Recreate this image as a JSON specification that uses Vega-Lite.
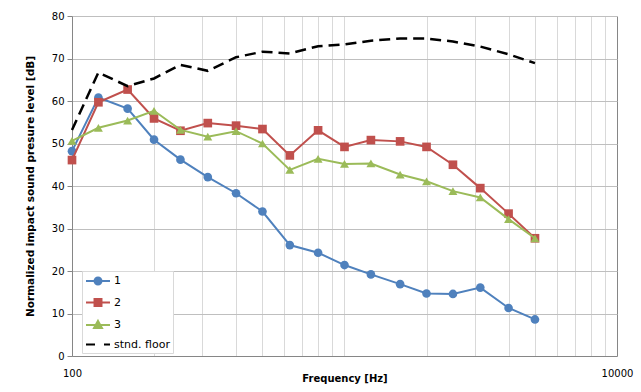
{
  "$schema": "https://vega.github.io/schema/vega-lite/v6.json",
  "width": 545,
  "height": 340,
  "autosize": "none",
  "padding": {"left": 72, "top": 16, "right": 24, "bottom": 36},
  "background": "white",
  "config": {
    "font": "DejaVu Sans",
    "view": {"stroke": null}
  },
  "data": {
    "values": [
      {"f": 100, "s": "1", "v": 48.2}, {"f": 125, "s": "1", "v": 60.8}, {"f": 160, "s": "1", "v": 58.2}, {"f": 200, "s": "1", "v": 50.9}, {"f": 250, "s": "1", "v": 46.2}, {"f": 315, "s": "1", "v": 42.1}, {"f": 400, "s": "1", "v": 38.3}, {"f": 500, "s": "1", "v": 34.0}, {"f": 630, "s": "1", "v": 26.1}, {"f": 800, "s": "1", "v": 24.3}, {"f": 1000, "s": "1", "v": 21.4}, {"f": 1250, "s": "1", "v": 19.2}, {"f": 1600, "s": "1", "v": 16.9}, {"f": 2000, "s": "1", "v": 14.7}, {"f": 2500, "s": "1", "v": 14.6}, {"f": 3150, "s": "1", "v": 16.1}, {"f": 4000, "s": "1", "v": 11.3}, {"f": 5000, "s": "1", "v": 8.6},
      {"f": 100, "s": "2", "v": 46.1}, {"f": 125, "s": "2", "v": 59.7}, {"f": 160, "s": "2", "v": 62.7}, {"f": 200, "s": "2", "v": 55.9}, {"f": 250, "s": "2", "v": 53.0}, {"f": 315, "s": "2", "v": 54.8}, {"f": 400, "s": "2", "v": 54.2}, {"f": 500, "s": "2", "v": 53.4}, {"f": 630, "s": "2", "v": 47.2}, {"f": 800, "s": "2", "v": 53.1}, {"f": 1000, "s": "2", "v": 49.2}, {"f": 1250, "s": "2", "v": 50.8}, {"f": 1600, "s": "2", "v": 50.5}, {"f": 2000, "s": "2", "v": 49.2}, {"f": 2500, "s": "2", "v": 45.0}, {"f": 3150, "s": "2", "v": 39.5}, {"f": 4000, "s": "2", "v": 33.5}, {"f": 5000, "s": "2", "v": 27.7},
      {"f": 100, "s": "3", "v": 50.6}, {"f": 125, "s": "3", "v": 53.7}, {"f": 160, "s": "3", "v": 55.4}, {"f": 200, "s": "3", "v": 57.7}, {"f": 250, "s": "3", "v": 53.2}, {"f": 315, "s": "3", "v": 51.6}, {"f": 400, "s": "3", "v": 52.9}, {"f": 500, "s": "3", "v": 50.0}, {"f": 630, "s": "3", "v": 43.8}, {"f": 800, "s": "3", "v": 46.4}, {"f": 1000, "s": "3", "v": 45.2}, {"f": 1250, "s": "3", "v": 45.3}, {"f": 1600, "s": "3", "v": 42.7}, {"f": 2000, "s": "3", "v": 41.1}, {"f": 2500, "s": "3", "v": 38.8}, {"f": 3150, "s": "3", "v": 37.3}, {"f": 4000, "s": "3", "v": 32.2}, {"f": 5000, "s": "3", "v": 27.7},
      {"f": 100, "s": "stnd. floor", "v": 53.2}, {"f": 125, "s": "stnd. floor", "v": 66.7}, {"f": 160, "s": "stnd. floor", "v": 63.5}, {"f": 200, "s": "stnd. floor", "v": 65.3}, {"f": 250, "s": "stnd. floor", "v": 68.5}, {"f": 315, "s": "stnd. floor", "v": 67.1}, {"f": 400, "s": "stnd. floor", "v": 70.3}, {"f": 500, "s": "stnd. floor", "v": 71.6}, {"f": 630, "s": "stnd. floor", "v": 71.2}, {"f": 800, "s": "stnd. floor", "v": 72.9}, {"f": 1000, "s": "stnd. floor", "v": 73.3}, {"f": 1250, "s": "stnd. floor", "v": 74.2}, {"f": 1600, "s": "stnd. floor", "v": 74.7}, {"f": 2000, "s": "stnd. floor", "v": 74.7}, {"f": 2500, "s": "stnd. floor", "v": 74.0}, {"f": 3150, "s": "stnd. floor", "v": 72.8}, {"f": 4000, "s": "stnd. floor", "v": 71.0}, {"f": 5000, "s": "stnd. floor", "v": 68.9}
    ]
  },
  "encoding": {
    "x": {
      "field": "f", "type": "quantitative",
      "scale": {"type": "log", "domain": [100, 10000], "nice": false},
      "axis": {
        "values": [100, 200, 300, 400, 500, 600, 700, 800, 900, 1000, 2000, 3000, 4000, 5000, 6000, 7000, 8000, 9000, 10000],
        "format": "d",
        "labelExpr": "datum.value == 100 || datum.value == 10000 ? datum.label : ''",
        "labelFlush": false,
        "labelOverlap": false,
        "labelFontSize": 10,
        "labelColor": "#000000",
        "labelPadding": 12,
        "ticks": false,
        "domainColor": "#868686",
        "gridColor": {"condition": {"test": "datum.value == 10000", "value": "#868686"}, "value": "#d9d9d9"},
        "title": "Frequency [Hz]",
        "titleFontSize": 10,
        "titleFontWeight": "bold",
        "titleColor": "#000000",
        "titleBaseline": "middle",
        "titleY": 22
      }
    },
    "y": {
      "field": "v", "type": "quantitative",
      "scale": {"domain": [0, 80], "nice": false},
      "axis": {
        "values": [0, 10, 20, 30, 40, 50, 60, 70, 80],
        "labelFontSize": 10,
        "labelColor": "#000000",
        "labelPadding": 3,
        "tickSize": 5,
        "tickColor": "#868686",
        "domainColor": "#868686",
        "gridColor": "#bfbfbf",
        "title": "Normalized  impact  sound  presure level [dB]",
        "titleFontSize": 10.5,
        "titleFontWeight": "bold",
        "titleColor": "#000000",
        "titleBaseline": "middle",
        "titleX": -42
      }
    }
  },
  "layer": [
    {
      "mark": {"type": "point", "filled": true, "opacity": 0},
      "encoding": {
        "color": {
          "field": "s", "type": "nominal",
          "scale": {"domain": ["1", "2", "3", "stnd. floor"], "range": ["#4F81BD", "#C0504D", "#9BBB59", "#000000"]},
          "legend": {
            "title": null, "orient": "none", "legendX": 10, "legendY": 255,
            "fillColor": "#ffffff", "strokeColor": "#d9d9d9", "padding": 3, "rowPadding": 5.5,
            "labelFontSize": 11, "labelColor": "#000000", "labelOffset": 9, "symbolOffset": 6,
            "symbolSize": 144, "symbolStrokeWidth": 2, "symbolOpacity": 1
          }
        },
        "stroke": {
          "field": "s", "type": "nominal",
          "scale": {"domain": ["1", "2", "3", "stnd. floor"], "range": ["#4F81BD", "#C0504D", "#9BBB59", "#000000"]},
          "legend": {
            "title": null, "orient": "none", "legendX": 10, "legendY": 255,
            "fillColor": "#ffffff", "strokeColor": "#d9d9d9", "padding": 3, "rowPadding": 5.5,
            "labelFontSize": 11, "labelColor": "#000000", "labelOffset": 9, "symbolOffset": 6,
            "symbolSize": 144, "symbolStrokeWidth": 2, "symbolOpacity": 1
          }
        },
        "shape": {
          "field": "s", "type": "nominal",
          "scale": {"domain": ["1", "2", "3", "stnd. floor"], "range": [
            "M-2,0L2,0M-0.58,0A0.58,0.58 0 1,1 0.58,0A0.58,0.58 0 1,1 -0.58,0Z",
            "M-2,0L2,0M-0.58,-0.58L0.58,-0.58L0.58,0.58L-0.58,0.58Z",
            "M-2,0L2,0M0,-0.68L0.66,0.5L-0.66,0.5Z",
            "M-2,0L-0.5,0M1,0L2,0"
          ]},
          "legend": {
            "title": null, "orient": "none", "legendX": 10, "legendY": 255,
            "fillColor": "#ffffff", "strokeColor": "#d9d9d9", "padding": 3, "rowPadding": 5.5,
            "labelFontSize": 11, "labelColor": "#000000", "labelOffset": 9, "symbolOffset": 6,
            "symbolSize": 144, "symbolStrokeWidth": 2, "symbolOpacity": 1
          }
        }
      }
    },
    {
      "transform": [{"filter": "datum.s === '1'"}],
      "mark": {"type": "line", "strokeWidth": 2},
      "encoding": {"color": {"field": "s", "type": "nominal", "legend": null}}
    },
    {
      "transform": [{"filter": "datum.s === '1'"}],
      "mark": {"type": "point", "filled": true, "opacity": 1, "size": 75, "shape": "circle"},
      "encoding": {"color": {"field": "s", "type": "nominal", "legend": null}}
    },
    {
      "transform": [{"filter": "datum.s === '2'"}],
      "mark": {"type": "line", "strokeWidth": 2},
      "encoding": {"color": {"field": "s", "type": "nominal", "legend": null}}
    },
    {
      "transform": [{"filter": "datum.s === '2'"}],
      "mark": {"type": "point", "filled": true, "opacity": 1, "size": 75, "shape": "square"},
      "encoding": {"color": {"field": "s", "type": "nominal", "legend": null}}
    },
    {
      "transform": [{"filter": "datum.s === '3'"}],
      "mark": {"type": "line", "strokeWidth": 2},
      "encoding": {"color": {"field": "s", "type": "nominal", "legend": null}}
    },
    {
      "transform": [{"filter": "datum.s === '3'"}],
      "mark": {"type": "point", "filled": true, "opacity": 1, "size": 80, "shape": "triangle-up"},
      "encoding": {"color": {"field": "s", "type": "nominal", "legend": null}}
    },
    {
      "transform": [{"filter": "datum.s === 'stnd. floor'"}],
      "mark": {"type": "line", "strokeWidth": 2.5, "strokeDash": [11, 6]},
      "encoding": {"color": {"field": "s", "type": "nominal", "legend": null}}
    }
  ]
}
